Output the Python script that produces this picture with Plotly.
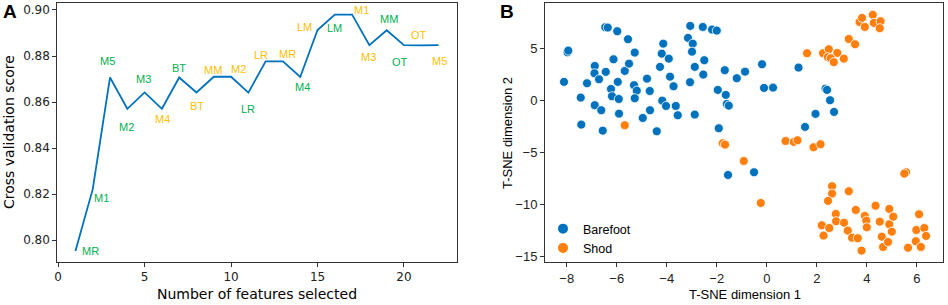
import plotly.graph_objects as go

# ---------------- Panel A data ----------------
n_features = list(range(1, 23))
cv_score = [0.7953, 0.8222, 0.8707, 0.8571, 0.8642, 0.8571, 0.8707, 0.8642, 0.8710, 0.8710,
            0.8641, 0.8777, 0.8777, 0.8709, 0.8913, 0.8980, 0.8980, 0.8847, 0.8912, 0.8847,
            0.8846, 0.8847]
feature_labels = ["MR", "M1", "M5", "M2", "M3", "M4", "BT", "BT", "MM", "M2", "LR",
                  "LR", "MR", "M4", "LM", "LM", "M1", "M3", "MM", "OT", "OT", "M5"]
label_group = ["g", "g", "g", "g", "g", "y", "g", "y", "y", "y", "g",
               "y", "y", "g", "y", "g", "y", "y", "g", "g", "y", "y"]

# ---------------- Panel B data ----------------
barefoot_x = [-8.11, -7.97, -7.94, -7.44, -7.42, -7.19, -6.88, -6.89, -6.88, -6.71, -6.62, -6.56,
              -6.44, -6.46, -6.36, -6.13, -6.23, -6.19, -5.98, -5.96, -5.92, -5.91, -5.68, -5.55,
              -5.51, -5.31, -5.20, -5.28, -5.28, -4.96, -4.79, -4.68, -4.67, -4.40, -4.27, -4.20,
              -4.14, -4.18, -4.03, -3.92, -3.87, -3.73, -3.64, -3.56, -3.15, -3.06, -2.96, -2.99,
              -2.88, -3.07, -2.88, -2.50, -2.54, -2.56, -2.19, -2.00, -1.96, -1.92, -1.68, -1.20,
              -0.87, -0.19, -1.64, -1.60, -1.52, -0.11, 0.25, 1.27, 2.35, 2.41, 2.53, 1.95,
              2.69, 1.53, -1.55, -0.51]
barefoot_y = [1.76, 4.60, 4.76, 0.25, -2.34, 1.63, 3.29, 2.59, -0.48, 2.01, -0.96, -2.92,
              2.72, 7.00, 6.97, 3.93, 1.08, 0.38, 6.62, 1.76, 0.12, -1.29, 2.81, 5.85,
              3.51, 1.44, 0.92, 4.57, 0.19, -1.70, 2.07, 0.89, -0.96, -2.98, 3.20, 4.47,
              5.43, -0.04, -0.55, 3.99, 2.26, 1.34, -0.55, -1.44, 5.98, 7.13, 5.43, 4.66,
              3.20, 1.73, -1.38, 3.84, 2.46, 7.03, 6.78, 6.68, 0.99, -2.69, 2.88, 2.11,
              2.74, 3.45, 0.51, -0.36, -0.52, 1.18, 1.21, 3.13, 1.11, 0.99, 0.00, -1.31,
              -1.12, -2.56, -7.17, -6.91]
shod_x = [-5.68, 1.61, 2.25, 2.48, 2.82, 2.44, 2.56, 2.68, 3.08, 3.28, 3.53, 3.71, 3.81, 3.92,
          4.24, 4.28, 4.55, 4.52, -1.76, -1.67, 0.75, 1.08, 1.23, 1.87, 2.15, -0.92, -0.24,
          5.57, 5.50, 2.61, 2.61, 2.45, 3.28, 2.20, 2.27, 2.50, 2.76, 2.77, 3.09, 3.24, 3.41,
          3.64, 3.56, 3.79, 3.92, 3.98, 4.00, 4.35, 4.52, 4.60, 4.65, 4.85, 4.90, 4.90, 5.00,
          5.06, 5.65, 6.09, 5.98, 6.30, 6.37, 5.96, 6.16]
shod_y = [-2.40, 4.51, 4.51, 4.89, 4.54, 4.13, 4.03, 3.65, 3.99, 5.88, 5.37, 7.51, 7.90, 7.03,
          8.19, 7.42, 7.58, 6.91, -4.13, -4.26, -3.91, -4.00, -3.84, -4.51, -4.22, -5.83, -9.86,
          -6.91, -7.04, -8.25, -8.96, -9.66, -8.73, -12.00, -12.99, -12.26, -10.91, -11.61, -11.75,
          -12.51, -13.19, -13.24, -10.53, -14.43, -11.10, -11.55, -12.19, -10.12, -11.65, -13.09,
          -14.08, -13.60, -10.43, -11.90, -12.61, -11.17, -14.15, -10.94, -12.45, -12.26, -13.02,
          -13.53, -14.08]

# ---------------- styles ----------------
W, H = 948, 305
BLUE = "#0072BD"
ORANGE = "#FF7F0E"
GREEN = "#00B050"
YELLOW = "#FFC000"
AX = "#333333"
DEJAVU = "DejaVu Sans"
ARIAL = "Liberation Sans, Arial"

# pixel offsets of each label relative to its point (dx right, dy down)
label_dx = [15, 9, -3, -1, -1, 1, 0, 1, -1, 7, 0, -5, 5, 2, -13, 0, 9, -1, 2, -4, -2, 1]
label_dy = [0, 9, -16, 18, -13, 10, -9, 14, -7, -8, 16, -6, -7, 10, -3, 13, -5, 12, -11, 17, -10, 16]

def px_x(p):
    return p / W

def px_y(p):
    return 1 - p / H

fig = go.Figure()

fig.add_trace(go.Scatter(x=n_features, y=cv_score, mode="lines",
                         line=dict(color=BLUE, width=1.8), showlegend=False,
                         xaxis="x", yaxis="y"))

fig.add_trace(go.Scatter(x=barefoot_x, y=barefoot_y, mode="markers", name="Barefoot",
                         marker=dict(color=BLUE, size=9, line=dict(color="white", width=0.8)),
                         xaxis="x2", yaxis="y2"))
fig.add_trace(go.Scatter(x=shod_x, y=shod_y, mode="markers", name="Shod",
                         marker=dict(color=ORANGE, size=9, line=dict(color="white", width=0.8)),
                         xaxis="x2", yaxis="y2"))

annotations = []
for xv, yv, lab, grp, dx, dy in zip(n_features, cv_score, feature_labels, label_group, label_dx, label_dy):
    annotations.append(dict(x=xv, y=yv, xref="x", yref="y", text=lab, showarrow=False,
                            xanchor="center", yanchor="middle", xshift=dx, yshift=-dy,
                            font=dict(family=ARIAL, size=11, color=GREEN if grp == "g" else YELLOW)))

def paper_text(xp, yp, text, family, size, angle=0):
    return dict(x=px_x(xp), y=px_y(yp), xref="paper", yref="paper", text=text,
                showarrow=False, xanchor="center", yanchor="middle", textangle=angle,
                font=dict(family=family, size=size, color="black"))

# panel letters
annotations.append(paper_text(10, 12, "<b>A</b>", ARIAL, 19))
annotations.append(paper_text(507, 12, "<b>B</b>", ARIAL, 19))
# axis titles
annotations.append(paper_text(257, 294, "Number of features selected", DEJAVU, 14))
annotations.append(paper_text(9, 132, "Cross validation score", DEJAVU, 14, -90))
annotations.append(paper_text(745, 294, "T-SNE dimension 1", ARIAL, 13))
annotations.append(paper_text(507, 133, "T-SNE dimension 2", ARIAL, 13, -90))

axis_common = dict(showgrid=False, zeroline=False, showline=True, linecolor=AX, linewidth=1,
                   mirror=True, ticks="outside", ticklen=4, tickcolor=AX, tickwidth=1,
                   automargin=False)

fig.update_layout(
    template="none",
    width=W, height=H, autosize=False,
    margin=dict(l=0, r=0, t=0, b=0, pad=0),
    paper_bgcolor="white", plot_bgcolor="white",
    annotations=annotations,
    xaxis=dict(domain=[px_x(57.3), px_x(456.7)], range=[-0.05, 23.05], tickvals=[0, 5, 10, 15, 20],
               anchor="y", tickfont=dict(family=DEJAVU, size=12, color="#222"), **axis_common),
    yaxis=dict(domain=[px_y(261.7), px_y(3.3)], range=[0.7907, 0.9029],
               tickvals=[0.80, 0.82, 0.84, 0.86, 0.88, 0.90], tickformat=".2f",
               anchor="x", tickfont=dict(family=DEJAVU, size=12, color="#222"), **axis_common),
    xaxis2=dict(domain=[px_x(545), px_x(943.3)], range=[-8.87, 7.06], tickvals=[-8, -6, -4, -2, 0, 2, 4, 6],
                anchor="y2", tickfont=dict(family=ARIAL, size=13, color="#222"), **axis_common),
    yaxis2=dict(domain=[px_y(262.3), px_y(3.3)], range=[-15.55, 9.3], tickvals=[-15, -10, -5, 0, 5],
                anchor="x2", tickfont=dict(family=ARIAL, size=13, color="#222"), **axis_common),
    legend=dict(x=px_x(543), y=px_y(214), xanchor="left", yanchor="top",
                bgcolor="rgba(255,255,255,0)", borderwidth=0,
                font=dict(family=ARIAL, size=12.5, color="black"), tracegroupgap=0,
                itemsizing="constant"),
    showlegend=True,
)

fig.write_html("out.html", config={"displayModeBar": False},
               post_script="document.body.style.margin='0';document.body.style.padding='0';")
